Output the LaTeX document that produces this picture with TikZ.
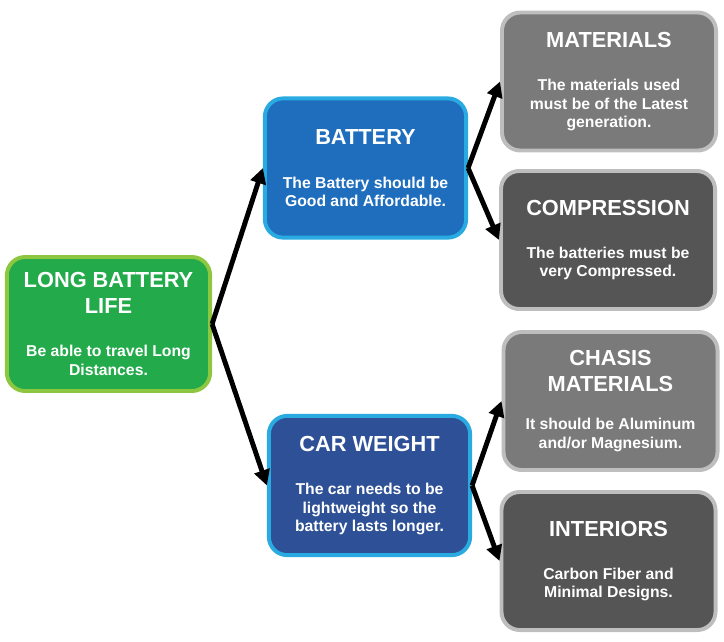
\documentclass[tikz,border=0pt]{standalone}
\usepackage{fontspec}
\setmainfont{Liberation Sans}
\usetikzlibrary{arrows.meta}
\definecolor{goalgreen}{HTML}{23AA4B}
\definecolor{goalrim}{HTML}{8DC63F}
\definecolor{batteryblue}{HTML}{1F6EBE}
\definecolor{weightblue}{HTML}{2D5096}
\definecolor{bluerim}{HTML}{29ABE2}
\definecolor{lightgray}{HTML}{7A7A7A}
\definecolor{darkgray}{HTML}{555555}
\definecolor{grayrim}{HTML}{BEBEBE}
\newcommand{\boxtitle}{\fontsize{15.5}{18}\selectfont}
\newcommand{\boxbody}{\fontsize{11.2}{13}\selectfont}
\tikzset{
    % Rounded card holding a title and a short note
    card/.style={rectangle, rounded corners=13pt, line width=2.8pt, text=white,
        align=center, font=\bfseries\boxbody, inner sep=2pt},
    % Root of the tree - green
    goal card/.style={card, draw=goalrim, fill=goalgreen, minimum width=5.08cm, minimum height=3.35cm},
    % Second level - blue
    topic card/.style={card, draw=bluerim, minimum width=5.03cm, minimum height=3.48cm},
    % Third level - gray
    detail card/.style={card, draw=grayrim, minimum width=5.35cm, minimum height=3.45cm},
    % Black branch arrows
    branch/.style={line width=3.5pt, -{Triangle[length=11pt,width=11pt]}}
}

\begin{document}
\begin{tikzpicture}[x=0.025cm, y=-0.025cm]
    \useasboundingbox (0,0) rectangle (724,641);

    % --- Root ---
    \node[goal card] (life) at (108.5,324)
        {\boxtitle LONG BATTERY\\[5pt]\boxtitle LIFE\\[18pt]Be able to travel Long\\Distances.};

    % --- Second level ---
    \node[topic card, fill=batteryblue] (battery) at (365.5,168)
        {\boxtitle BATTERY\\[18pt]The Battery should be\\Good and Affordable.};
    \node[topic card, fill=weightblue] (weight) at (369.5,485.5)
        {\boxtitle CAR WEIGHT\\[18pt]The car needs to be\\lightweight so the\\battery lasts longer.};

    % --- Third level ---
    \node[detail card, fill=lightgray] (materials) at (609,81.5)
        {\boxtitle MATERIALS\\[18pt]The materials used\\must be of the Latest\\generation.};
    \node[detail card, fill=darkgray] (compression) at (608,240)
        {\boxtitle COMPRESSION\\[18pt]The batteries must be\\very Compressed.};
    \node[detail card, fill=lightgray] (chasis) at (610.5,401)
        {\boxtitle CHASIS\\[5pt]\boxtitle MATERIALS\\[14.5pt]It should be Aluminum\\and/or Magnesium.};
    \node[detail card, fill=darkgray] (interiors) at (608.5,561)
        {\boxtitle INTERIORS\\[18pt]Carbon Fiber and\\Minimal Designs.};

    % --- Branches ---
    \draw[branch] (life.east) -- (battery.west);
    \draw[branch] (life.east) -- (weight.west);
    \draw[branch] (battery.east) -- (materials.west);
    \draw[branch] (battery.east) -- (compression.west);
    \draw[branch] (weight.east) -- (chasis.west);
    \draw[branch] (weight.east) -- (interiors.west);
\end{tikzpicture}
\end{document}
